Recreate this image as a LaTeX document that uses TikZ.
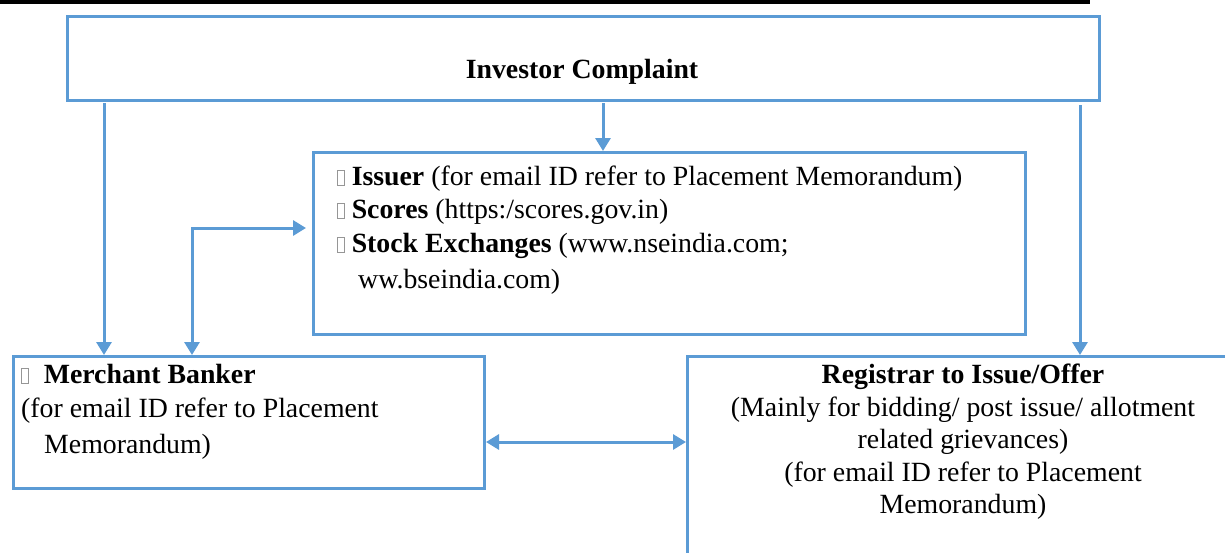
\documentclass[tikz,border=0pt]{standalone}
\usepackage{fontspec}
\setmainfont{Liberation Serif}
\usetikzlibrary{arrows.meta,calc}
\definecolor{boxblue}{RGB}{91,155,213}
\definecolor{glyphgray}{RGB}{150,150,150}
\newcommand{\missingglyph}{{\color{glyphgray}\fboxrule=0.8pt\fboxsep=0pt\fbox{\rule{0pt}{14.5pt}\hspace{6pt}}}}
\tikzset{
  box/.style={draw=boxblue, line width=3pt, rectangle, inner sep=0pt, anchor=north west},
  arr/.style={draw=boxblue, line width=3pt, -{Triangle[width=15pt,length=13pt]}},
  biarr/.style={draw=boxblue, line width=3pt, {Triangle[width=15pt,length=13pt]}-{Triangle[width=15pt,length=13pt]}},
  txt/.style={inner sep=0pt, font=\fontsize{27.8pt}{34pt}\selectfont},
  lefttxt/.style={txt, anchor=base west},
  midtxt/.style={txt, anchor=base},
}
\begin{document}
\begin{tikzpicture}[x=1pt,y=-1pt]
\useasboundingbox (0,0) rectangle (1225,552);
\clip (0,0) rectangle (1225,552);
% top black rule
\fill[black] (0,0) rectangle (1090,4);
% boxes
\node[box, minimum width=1032pt, minimum height=84pt] (complaint) at (66,15) {};
\node[box, minimum width=712pt, minimum height=182pt] (issuer) at (312,151) {};
\node[box, minimum width=471pt, minimum height=132pt] (merchant) at (12,355) {};
\node[box, minimum width=554pt, minimum height=230pt] (reg) at (686,355) {};
% texts
\node[midtxt] (tcomp) at (582,78) {\textbf{Investor Complaint}};
\node[lefttxt] (ti1) at (337,185) {\missingglyph\ \textbf{Issuer} (for email ID refer to Placement Memorandum)};
\node[lefttxt] (ti2) at (337,218) {\missingglyph\ \textbf{Scores} (https:/scores.gov.in)};
\node[lefttxt] (ti3) at (337,252) {\missingglyph\ \textbf{Stock Exchanges} (www.nseindia.com;};
\node[lefttxt] (ti4) at (358,288) {ww.bseindia.com)};
\node[lefttxt] (tm1) at (21,383) {\missingglyph\hspace{15pt}\textbf{Merchant Banker}};
\node[lefttxt] (tm2) at (21,417) {(for email ID refer to Placement};
\node[lefttxt] (tm3) at (44,453) {Memorandum)};
\node[midtxt] (tr1) at (963,383) {\textbf{Registrar to Issue/Offer}};
\node[midtxt] (tr2) at (963,416) {(Mainly for bidding/ post issue/ allotment};
\node[midtxt] (tr3) at (963,448) {related grievances)};
\node[midtxt] (tr4) at (963,481) {(for email ID refer to Placement};
\node[midtxt] (tr5) at (963,513) {Memorandum)};
% connectors
\coordinate (c1) at (104,103);
\coordinate (c2) at (603,103);
\coordinate (c3) at (1080,105);
\coordinate (c4) at (192,228);
\coordinate (c5) at (585,442);
\draw[arr] (c1) -- (c1 |- merchant.north);
\draw[arr] (c2) -- (c2 |- issuer.north);
\draw[arr] (c3) -- (c3 |- reg.north);
\draw[biarr, shorten >=6pt] (merchant.north -| c4) -- (c4) -- (c4 -| issuer.west);
\draw[biarr] (c5 -| merchant.east) -- (c5 -| reg.west);
\end{tikzpicture}
\end{document}
